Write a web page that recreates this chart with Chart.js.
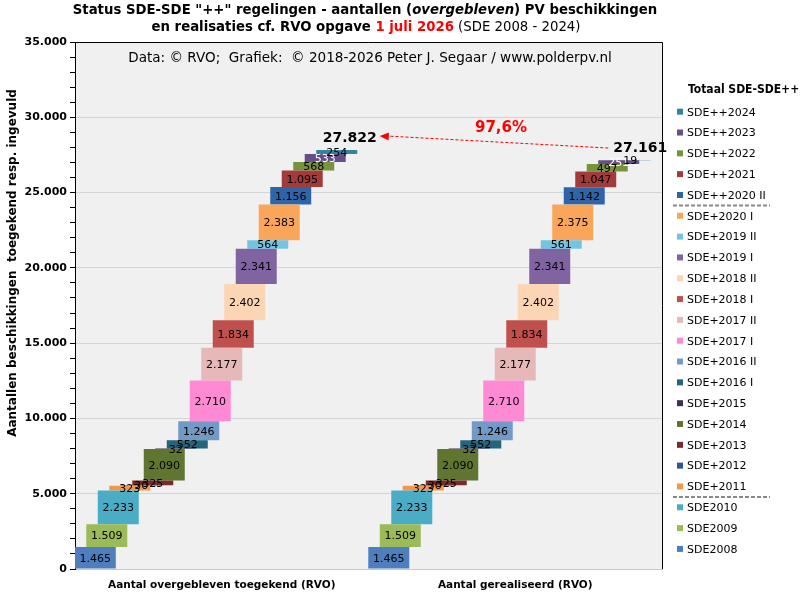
<!DOCTYPE html>
<html>
<head>
<meta charset="utf-8">
<script src="https://cdn.jsdelivr.net/npm/chart.js@4.4.1/dist/chart.umd.min.js"></script>
<style>
  html, body { margin: 0; padding: 0; background: #fff; }
  #wrap { width: 803px; height: 601px; }
</style>
</head>
<body>
<div id="wrap"><canvas id="myChart" width="803" height="601"></canvas></div>
<script>
const categories = ['Aantal overgebleven toegekend (RVO)', 'Aantal gerealiseerd (RVO)'];
const regelingen = ['SDE2008', 'SDE2009', 'SDE2010', 'SDE+2011', 'SDE+2012', 'SDE+2013', 'SDE+2014', 'SDE+2015',
  'SDE+2016 I', 'SDE+2016 II', 'SDE+2017 I', 'SDE+2017 II', 'SDE+2018 I', 'SDE+2018 II', 'SDE+2019 I',
  'SDE+2019 II', 'SDE+2020 I', 'SDE++2020 II', 'SDE++2021', 'SDE++2022', 'SDE++2023', 'SDE++2024'];
const toegekend = [1465, 1509, 2233, 323, 30, 325, 2090, 32, 552, 1246, 2710, 2177, 1834, 2402, 2341, 564, 2383, 1156, 1095, 568, 533, 254];
const gerealiseerd = [1465, 1509, 2233, 323, 30, 325, 2090, 32, 552, 1246, 2710, 2177, 1834, 2402, 2341, 561, 2375, 1142, 1047, 497, 251, 19];
const kleuren = ['#4f7ebf', '#9bbb59', '#4bacc6', '#f79646', '#2b5797', '#772c2a', '#5f7530', '#403152',
  '#23657a', '#7399c6', '#ff8ad4', '#e6b9b8', '#c0504d', '#fcd5b5', '#8064a2',
  '#72c4e0', '#f9a65a', '#2e64a8', '#a23b3b', '#77933c', '#654e8a', '#31859c'];
const yTicks = [0, 5000, 10000, 15000, 20000, 25000, 30000, 35000];
// legend separators after these items (top-down order)
const scheiding = ['SDE++2020 II', 'SDE+2011'];

function nlNum(v) {
  return String(v).replace(/\B(?=(\d{3})+(?!\d))/g, '.');
}

// cumulative start/end per regeling
function floating(vals) {
  let sum = 0;
  return vals.map(v => { const r = [sum, sum + v]; sum += v; return r; });
}
const fl1 = floating(toegekend);
const fl2 = floating(gerealiseerd);
const totaal1 = toegekend.reduce((a, b) => a + b, 0);
const totaal2 = gerealiseerd.reduce((a, b) => a + b, 0);

const datasets = regelingen.map((name, i) => ({
  label: name,
  data: [fl1[i], fl2[i]],
  backgroundColor: kleuren[i],
  borderWidth: 0,
  borderSkipped: false
}));
// empty slot so that the staircase sits slightly left of the category centre
datasets.push({ label: '', data: [null, null], backgroundColor: 'rgba(0,0,0,0)' });

const FONT = '"DejaVu Sans", Verdana, sans-serif';
const COND = '"DejaVu Sans Condensed", "DejaVu Sans", sans-serif';

// parts: {text, style, color}; font size is fitted so the line gets the wanted width
function drawParts(ctx, parts, cx, y, size, width, family) {
  const fam = family || COND;
  const f = (p, s) => (p.style || '') + ' ' + s + 'px ' + fam;
  let total = 0;
  parts.forEach(p => { ctx.font = f(p, size); total += ctx.measureText(p.text).width; });
  const s = width ? size * width / total : size;
  total = 0;
  parts.forEach(p => { ctx.font = f(p, s); total += ctx.measureText(p.text).width; });
  let x = cx - total / 2;
  parts.forEach(p => {
    ctx.font = f(p, s);
    ctx.fillStyle = p.color || '#000';
    ctx.fillText(p.text, x, y);
    x += ctx.measureText(p.text).width;
  });
  return s;
}

const extras = {
  id: 'extras',
  beforeDraw(chart) {
    const { ctx, chartArea: a } = chart;
    ctx.save();
    ctx.fillStyle = '#f0f0f0';
    ctx.fillRect(a.left, a.top, a.right - a.left, a.bottom - a.top);
    ctx.restore();
  },
  afterDatasetsDraw(chart) {
    const ctx = chart.ctx;
    ctx.save();
    ctx.font = '11px ' + FONT;
    ctx.textAlign = 'center';
    ctx.textBaseline = 'middle';
    regelingen.forEach((name, i) => {
      const meta = chart.getDatasetMeta(i);
      meta.data.forEach((bar, j) => {
        const v = j === 0 ? toegekend[i] : gerealiseerd[i];
        ctx.fillStyle = name === 'SDE++2023' ? '#fff' : '#000';
        ctx.fillText(nlNum(v), bar.x, (bar.y + bar.base) / 2 + 1);
      });
    });
    ctx.restore();
  },
  afterDraw(chart) {
    const { ctx, chartArea: a } = chart;
    ctx.save();
    // plot frame top + right
    ctx.strokeStyle = '#000';
    ctx.lineWidth = 1;
    ctx.beginPath();
    ctx.moveTo(a.left, a.top + 0.5);
    ctx.lineTo(a.right + 0.5, a.top + 0.5);
    ctx.lineTo(a.right + 0.5, a.bottom);
    ctx.stroke();

    // titles
    ctx.textBaseline = 'middle';
    ctx.textAlign = 'left';
    const ts = drawParts(ctx, [
      { text: 'Status SDE-SDE "++" regelingen - aantallen (', style: 'bold' },
      { text: 'overgebleven', style: 'italic bold' },
      { text: ') PV beschikkingen', style: 'bold' }
    ], 365, 10, 13, 585);
    drawParts(ctx, [
      { text: 'en realisaties cf. RVO opgave ', style: 'bold' },
      { text: '1 juli 2026', style: 'bold', color: '#ff0000' },
      { text: ' (SDE 2008 - 2024)', style: '' }
    ], 366, 27, ts);
    drawParts(ctx, [
      { text: 'Data: \u00a9 RVO;  Grafiek:  \u00a9 2018-2026 Peter J. Segaar / www.polderpv.nl', style: '' }
    ], 370, 58, 13, 484, FONT);

    // y axis title
    ctx.save();
    ctx.translate(13, 263);
    ctx.rotate(-Math.PI / 2);
    ctx.textAlign = 'center';
    ctx.font = 'bold 12px ' + FONT;
    ctx.fillStyle = '#000';
    ctx.fillText('Aantallen beschikkingen  toegekend resp. ingevuld', 0, 0);
    ctx.restore();

    // totals + arrow
    const last = regelingen.length - 1;
    const m = chart.getDatasetMeta(last);
    const b1 = m.data[0], b2 = m.data[1];
    ctx.font = 'bold 14px ' + FONT;
    ctx.textAlign = 'center';
    ctx.fillStyle = '#000';
    const p1 = { x: b1.x + 13, y: b1.y - 12 };
    const p2 = { x: b2.x + 10, y: b2.y - 12 };
    const t1 = nlNum(totaal1), t2 = nlNum(totaal2);
    ctx.fillText(t1, p1.x, p1.y);
    ctx.fillText(t2, p2.x, p2.y);
    const w1 = ctx.measureText(t1).width, w2 = ctx.measureText(t2).width;
    const sx = p2.x - w2 / 2 - 5, sy = p2.y;
    const ex = p1.x + w1 / 2 + 3, ey = p1.y - 2;
    ctx.strokeStyle = '#ff0000';
    ctx.lineWidth = 1;
    ctx.setLineDash([3, 2]);
    ctx.beginPath();
    ctx.moveTo(sx, sy);
    ctx.lineTo(ex + 8, ey);
    ctx.stroke();
    ctx.setLineDash([]);
    const ang = Math.atan2(ey - sy, ex - sx);
    ctx.fillStyle = '#ff0000';
    ctx.beginPath();
    ctx.moveTo(ex, ey);
    ctx.lineTo(ex - 9 * Math.cos(ang) + 4 * Math.sin(ang), ey - 9 * Math.sin(ang) - 4 * Math.cos(ang));
    ctx.lineTo(ex - 9 * Math.cos(ang) - 4 * Math.sin(ang), ey - 9 * Math.sin(ang) + 4 * Math.cos(ang));
    ctx.closePath();
    ctx.fill();
    const pct = (totaal2 / totaal1 * 100).toFixed(1).replace('.', ',') + '%';
    ctx.font = 'bold 15px ' + FONT;
    ctx.fillText(pct, (sx + ex) / 2 + 7, (sy + ey) / 2 - 14);

    // legend (top-down, newest first)
    ctx.textAlign = 'left';
    ctx.font = 'bold 12px ' + COND;
    ctx.fillStyle = '#000';
    ctx.fillText('Totaal SDE-SDE++', 688, 90);
    ctx.font = '11px ' + FONT;
    const order = regelingen.map((n, i) => i).reverse();
    order.forEach((i, k) => {
      const y = 111.7 + k * 20.82;
      ctx.fillStyle = kleuren[i];
      ctx.fillRect(677, y - 3, 6, 6);
      ctx.fillStyle = '#000';
      ctx.fillText(regelingen[i], 687, y + 1);
      if (scheiding.includes(regelingen[i])) {
        ctx.strokeStyle = '#888';
        ctx.lineWidth = 2;
        ctx.setLineDash([4, 2]);
        ctx.beginPath();
        ctx.moveTo(673, y + 10.5);
        ctx.lineTo(770, y + 10.5);
        ctx.stroke();
        ctx.setLineDash([]);
      }
    });
    ctx.restore();
  }
};

var ctx = document.getElementById('myChart').getContext('2d');
new Chart(ctx, {
  type: 'bar',
  data: { labels: categories, datasets: datasets },
  plugins: [extras],
  options: {
    responsive: false,
    animation: false,
    layout: { padding: { top: 42, right: 141, left: 0, bottom: 0 } },
    categoryPercentage: 0.901,
    barPercentage: 3.565,
    plugins: {
      legend: { display: false },
      tooltip: { enabled: false }
    },
    scales: {
      x: {
        afterFit(scale) { scale.height = 32; },
        grid: { display: false, drawTicks: false },
        border: { display: true, color: '#c8c8c8' },
        ticks: {
          padding: 10,
          color: '#000',
          font: { family: FONT, size: 10.5, weight: 'bold' }
        }
      },
      y: {
        min: 0,
        max: 35000,
        afterFit(scale) { scale.width = 75; },
        afterBuildTicks(scale) {
          const t = [];
          for (let v = 0; v <= 35000; v += 1000) t.push({ value: v });
          scale.ticks = t;
        },
        border: { color: '#000' },
        grid: {
          color: c => (yTicks.includes(c.tick.value) && c.tick.value > 0) ? '#d4d4d4' : 'rgba(0,0,0,0)',
          tickColor: '#000',
          tickLength: 5
        },
        ticks: {
          padding: 3,
          autoSkip: false,
          color: '#000',
          font: { family: FONT, size: 11, weight: 'bold' },
          callback(value) {
            return yTicks.includes(value) ? nlNum(value) : '';
          }
        }
      }
    }
  }
});
</script>
</body>
</html>
